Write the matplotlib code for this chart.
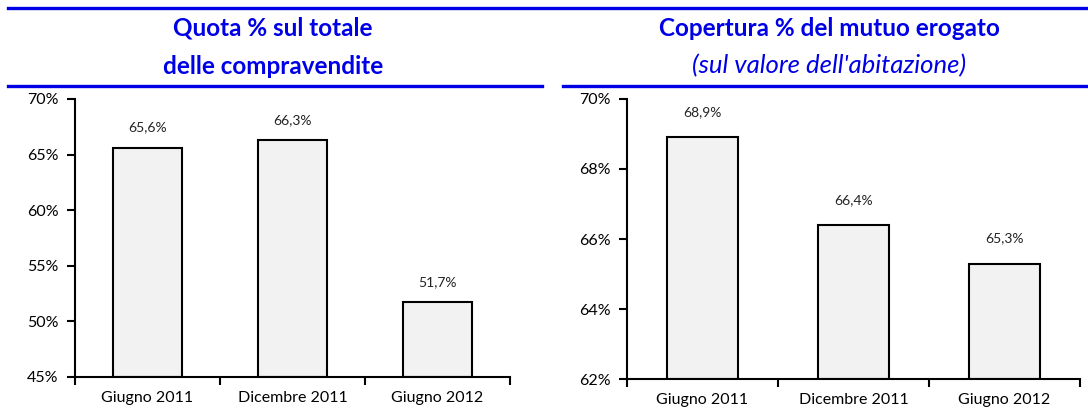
import matplotlib.pyplot as plt
from matplotlib.lines import Line2D
from matplotlib.ticker import FuncFormatter

plt.rcParams['font.family'] = ['Lato', 'DejaVu Sans']

# Data
categories = ["Giugno 2011", "Dicembre 2011", "Giugno 2012"]
quota = [65.6, 66.3, 51.7]
copertura = [68.9, 66.4, 65.3]

blue = '#0000E6'
bar_fill = '#F2F2F2'

fig = plt.figure(figsize=(10.88, 4.08), dpi=100)

ax1 = fig.add_axes([0.0689, 0.076, 0.3998, 0.6814])
ax2 = fig.add_axes([0.5763, 0.071, 0.4164, 0.6864])


def draw_panel(ax, values, ylim, step, label_off):
    x = range(len(values))
    ax.bar(x, [v - ylim[0] for v in values], bottom=ylim[0], width=0.47,
           color=bar_fill, edgecolor='black', linewidth=1.5)
    for xi, v in zip(x, values):
        ax.text(xi, v + label_off, f"{v:.1f}%".replace('.', ','),
                ha='center', va='bottom', fontsize=10, color='#222222')
    ax.set_xlim(-0.5, len(values) - 0.5)
    ax.set_ylim(*ylim)
    ticks = list(range(ylim[0], ylim[1] + 1, step))
    ax.set_yticks(ticks)
    ax.yaxis.set_major_formatter(FuncFormatter(lambda v, p: f"{v:.0f}%"))
    ax.set_xticks([i - 0.5 for i in range(len(values) + 1)])
    ax.set_xticklabels([])
    ax.set_xticks(list(x), minor=True)
    ax.set_xticklabels(categories, minor=True)
    ax.tick_params(axis='x', which='minor', length=0, pad=10, labelsize=11.5)
    ax.tick_params(axis='x', which='major', length=6, width=1.5, direction='out')
    ax.tick_params(axis='y', length=6, width=1.5, direction='out', labelsize=11.5, pad=6)
    for s in ['top', 'right']:
        ax.spines[s].set_visible(False)
    for s in ['left', 'bottom']:
        ax.spines[s].set_linewidth(1.5)


draw_panel(ax1, quota, (45, 70), 5, 1.3)
draw_panel(ax2, copertura, (62, 70), 2, 0.55)

# Header lines
H = 408.0
W = 1088.0
fig.add_artist(Line2D([8 / W, 1.0], [1 - 8 / H, 1 - 8 / H], color=blue, lw=2.4))
fig.add_artist(Line2D([8 / W, 542 / W], [1 - 86 / H, 1 - 86 / H], color=blue, lw=2.4))
fig.add_artist(Line2D([563 / W, 1.0], [1 - 86 / H, 1 - 86 / H], color=blue, lw=2.4))

# Titles
fig.text(273 / W, 1 - 28 / H, "Quota % sul totale", ha='center', va='center',
         color=blue, fontsize=17.5, fontweight='bold')
fig.text(273 / W, 1 - 66 / H, "delle compravendite", ha='center', va='center',
         color=blue, fontsize=17.5, fontweight='bold')
fig.text(829 / W, 1 - 28 / H, "Copertura % del mutuo erogato", ha='center', va='center',
         color=blue, fontsize=17.5, fontweight='bold')
fig.text(829 / W, 1 - 66 / H, "(sul valore dell'abitazione)", ha='center', va='center',
         color=blue, fontsize=18.5, style='italic')

fig.savefig('out.png', dpi=100)
